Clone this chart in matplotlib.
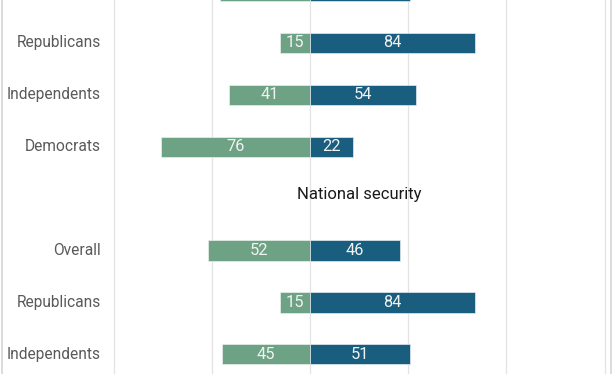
import matplotlib.pyplot as plt
from matplotlib.lines import Line2D

# row labels, top to bottom (first row is cut off at the top of the picture)
groups = ['Overall', 'Republicans', 'Independents', 'Democrats',
          'Overall', 'Republicans', 'Independents']
left_vals = [46, 15, 41, 76, 52, 15, 45]
right_vals = [51, 84, 54, 22, 46, 84, 51]
rows = [0, 1, 2, 3, 5, 6, 7]
section_title = 'National security'
title_row = 3.93
grid_ticks = [-100, -50, 0, 50, 100, 150]

GREEN = '#6da285'
BLUE = '#195e7e'
LABEL_COLOR = '#5a5a5a'
FONT = ['Roboto', 'DejaVu Sans']

plt.rcParams['font.family'] = FONT

fig = plt.figure(figsize=(6.12, 3.74), dpi=100)
ax = fig.add_axes([0, 0, 1, 1])

ax.barh(rows, [-v for v in left_vals], height=0.39, color=GREEN,
        edgecolor='#e8f0ec', linewidth=0.5, zorder=3)
ax.barh(rows, right_vals, height=0.39, color=BLUE,
        edgecolor='#e3ebef', linewidth=0.5, zorder=3)

ylo, yhi = 0.173, 7.38
for r, lv, rv, name in zip(rows, left_vals, right_vals, groups):
    # the top row only shows the bottom of its bar, its texts are out of view
    if r < ylo + 0.2:
        continue
    ax.text(-lv / 2, r, str(lv), ha='center', va='center', color='#f2f2f2',
            fontsize=11.8, zorder=4)
    ax.text(rv / 2, r, str(rv), ha='center', va='center', color='#f2f2f2',
            fontsize=11.8, zorder=4)
    ax.text(-106.5, r, name, ha='right', va='center', color=LABEL_COLOR,
            fontsize=11.2)

ax.text(25, title_row, section_title, ha='center', va='center', color='#1a1a1a',
        fontsize=12)

# axis placed so that 0 sits at x=310px, 1 unit ~ 1.964px
ax.set_xlim(-157.8, 153.8)
ax.set_ylim(yhi, ylo)
ax.set_xticks(grid_ticks)
ax.set_yticks([])
ax.grid(axis='x', color='#e3e3e3', linewidth=0.9, zorder=0)
ax.tick_params(length=0, labelbottom=False)
for s in ax.spines.values():
    s.set_visible(False)

# light card border at the left and right edges
for xpx in (1.5, 610.5):
    fig.add_artist(Line2D([xpx / 612, xpx / 612], [0, 1], color='#d6d6d6',
                          linewidth=1.2, transform=fig.transFigure))

fig.savefig('out.png', dpi=100)
